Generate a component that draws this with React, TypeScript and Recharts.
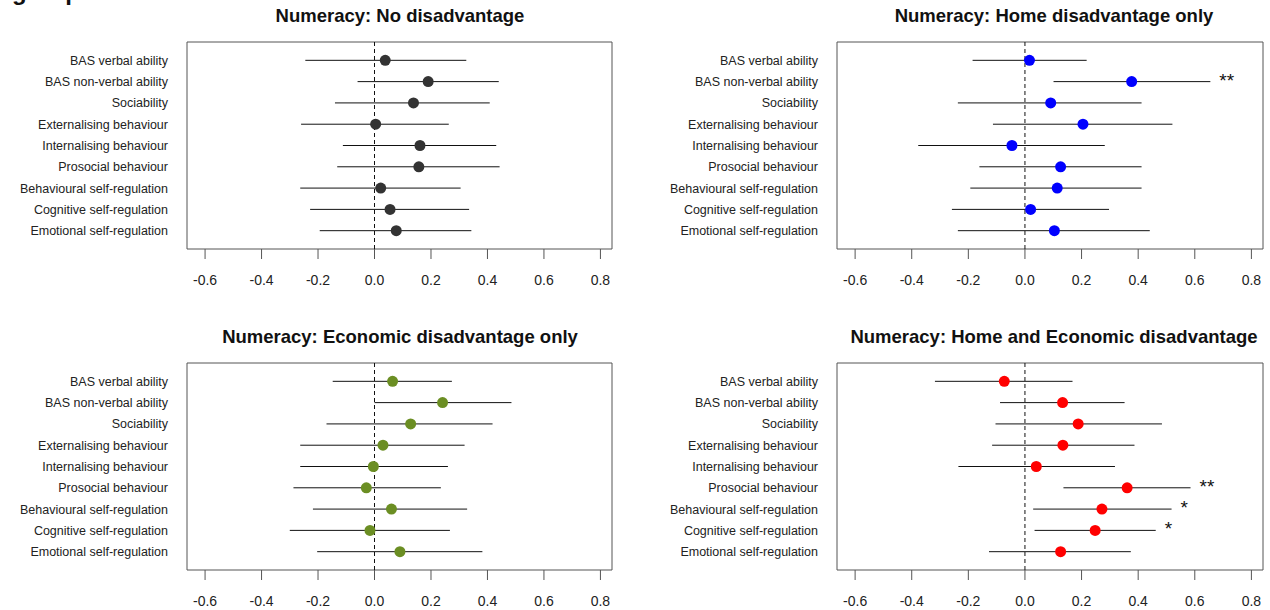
import React from "react";
import {
  ScatterChart,
  Scatter,
  XAxis,
  YAxis,
  ErrorBar,
  ReferenceLine,
  ReferenceArea,
} from "recharts";

const categories = [
  "BAS verbal ability",
  "BAS non-verbal ability",
  "Sociability",
  "Externalising behaviour",
  "Internalising behaviour",
  "Prosocial behaviour",
  "Behavioural self-regulation",
  "Cognitive self-regulation",
  "Emotional self-regulation",
];

const xTicks = [-0.6, -0.4, -0.2, 0.0, 0.2, 0.4, 0.6, 0.8];

// No disadvantage
const noneEst = [0.038, 0.19, 0.138, 0.004, 0.161, 0.157, 0.022, 0.055, 0.077];
const noneLo = [-0.245, -0.06, -0.14, -0.26, -0.112, -0.132, -0.263, -0.228, -0.194];
const noneHi = [0.325, 0.44, 0.408, 0.263, 0.431, 0.443, 0.305, 0.335, 0.343];
const noneSig = ["", "", "", "", "", "", "", "", ""];

// Home disadvantage only
const homeEst = [0.016, 0.377, 0.091, 0.205, -0.046, 0.126, 0.114, 0.02, 0.104];
const homeLo = [-0.185, 0.101, -0.237, -0.113, -0.377, -0.161, -0.193, -0.258, -0.237];
const homeHi = [0.218, 0.655, 0.412, 0.521, 0.282, 0.412, 0.412, 0.297, 0.441];
const homeSig = ["", "**", "", "", "", "", "", "", ""];

// Economic disadvantage only
const econEst = [0.064, 0.241, 0.128, 0.03, -0.004, -0.029, 0.06, -0.016, 0.09];
const econLo = [-0.148, 0.0, -0.17, -0.263, -0.263, -0.287, -0.218, -0.3, -0.203];
const econHi = [0.274, 0.485, 0.418, 0.319, 0.26, 0.235, 0.328, 0.267, 0.382];
const econSig = ["", "", "", "", "", "", "", "", ""];

// Home and Economic disadvantage
const bothEst = [-0.073, 0.133, 0.188, 0.134, 0.04, 0.361, 0.272, 0.248, 0.126];
const bothLo = [-0.318, -0.088, -0.104, -0.116, -0.235, 0.136, 0.029, 0.034, -0.127];
const bothHi = [0.168, 0.352, 0.484, 0.387, 0.318, 0.585, 0.518, 0.462, 0.374];
const bothSig = ["", "", "", "", "", "**", "*", "*", ""];

const X_DOMAIN: [number, number] = [-0.664, 0.841];
const Y_DOMAIN: [number, number] = [0.14, 9.86];

function makeRows(est: number[], lo: number[], hi: number[]) {
  return est.map((x, i) => ({ x, y: i + 1, err: [x - lo[i], hi[i] - x] }));
}

function makeSig(hi: number[], sig: string[]) {
  return hi
    .map((x, i) => ({ x, y: i + 1, sig: sig[i] }))
    .filter((d) => d.sig !== "");
}

type PanelProps = {
  color: string;
  est: number[];
  lo: number[];
  hi: number[];
  sig: string[];
  left: number;
  top: number;
  width: number;
  yWidth: number;
  rightMargin: number;
};

function Panel(p: PanelProps) {
  const rows = makeRows(p.est, p.lo, p.hi);
  const sigRows = makeSig(p.hi, p.sig);
  return (
    <div style={{ position: "absolute", left: p.left, top: p.top }}>
      <ScatterChart
        width={p.width}
        height={289}
        margin={{ top: 42, right: p.rightMargin, bottom: 0, left: 0 }}
      >
        <XAxis
          type="number"
          dataKey="x"
          domain={X_DOMAIN}
          ticks={xTicks}
          allowDataOverflow
          axisLine={false}
          tickSize={10}
          tickMargin={16}
          height={40}
          tickLine={{ stroke: "#555" }}
          tick={{ fill: "#222", fontSize: 14 }}
          tickFormatter={(v: number) => v.toFixed(1)}
          interval={0}
        />
        <YAxis
          type="number"
          dataKey="y"
          domain={Y_DOMAIN}
          ticks={[1, 2, 3, 4, 5, 6, 7, 8, 9]}
          reversed
          allowDataOverflow
          axisLine={false}
          tickLine={false}
          tickSize={0}
          tickMargin={19}
          width={p.yWidth}
          tick={{ fill: "#222", fontSize: 12.5 }}
          tickFormatter={(v: number) => categories[v - 1]}
          interval={0}
        />
        <ReferenceArea
          x1={X_DOMAIN[0]}
          x2={X_DOMAIN[1]}
          y1={Y_DOMAIN[0]}
          y2={Y_DOMAIN[1]}
          fill="none"
          stroke="#555"
          strokeWidth={1}
          ifOverflow="visible"
        />
        <ReferenceLine x={0} stroke="#111" strokeDasharray="4 3" />
        <Scatter
          data={rows}
          isAnimationActive={false}
          shape={(s: any) => <circle cx={s.cx} cy={s.cy} r={5.5} fill={p.color} />}
        >
          <ErrorBar dataKey="err" direction="x" width={0} stroke="#111" strokeWidth={1} />
        </Scatter>
        <Scatter
          data={sigRows}
          isAnimationActive={false}
          shape={(s: any) => (
            <text x={s.cx + 9} y={s.cy + 5} fontSize={19} fill="#111">
              {s.payload.sig}
            </text>
          )}
        />
      </ScatterChart>
    </div>
  );
}

export default function App() {
  return (
    <div
      style={{
        position: "absolute",
        left: 0,
        top: 0,
        width: 1270,
        height: 610,
        overflow: "hidden",
        background: "#fff",
        fontFamily: "'Liberation Sans', Arial, sans-serif",
      }}
    >
      <Panel color="#333333" est={noneEst} lo={noneLo} hi={noneHi} sig={noneSig} left={0} top={0} width={640} yWidth={187} rightMargin={28} />
      <Panel color="#0000ff" est={homeEst} lo={homeLo} hi={homeHi} sig={homeSig} left={640} top={0} width={630} yWidth={197} rightMargin={7} />
      <Panel color="#6b8e23" est={econEst} lo={econLo} hi={econHi} sig={econSig} left={0} top={321} width={640} yWidth={187} rightMargin={28} />
      <Panel color="#ff0000" est={bothEst} lo={bothLo} hi={bothHi} sig={bothSig} left={640} top={321} width={630} yWidth={197} rightMargin={7} />
      <svg
        width={1270}
        height={610}
        style={{ position: "absolute", left: 0, top: 0, pointerEvents: "none" }}
      >
        <text x={12} y={0} fontSize={24} fontWeight="bold" fill="#111">
          group
        </text>
        <text x={400} y={22} fontSize={18.5} fontWeight="bold" textAnchor="middle" fill="#111">
          Numeracy: No disadvantage
        </text>
        <text x={1054} y={22} fontSize={18.5} fontWeight="bold" textAnchor="middle" fill="#111">
          Numeracy: Home disadvantage only
        </text>
        <text x={400} y={343} fontSize={18.5} fontWeight="bold" textAnchor="middle" fill="#111">
          Numeracy: Economic disadvantage only
        </text>
        <text x={1054} y={343} fontSize={18.5} fontWeight="bold" textAnchor="middle" fill="#111">
          Numeracy: Home and Economic disadvantage
        </text>
      </svg>
    </div>
  );
}
